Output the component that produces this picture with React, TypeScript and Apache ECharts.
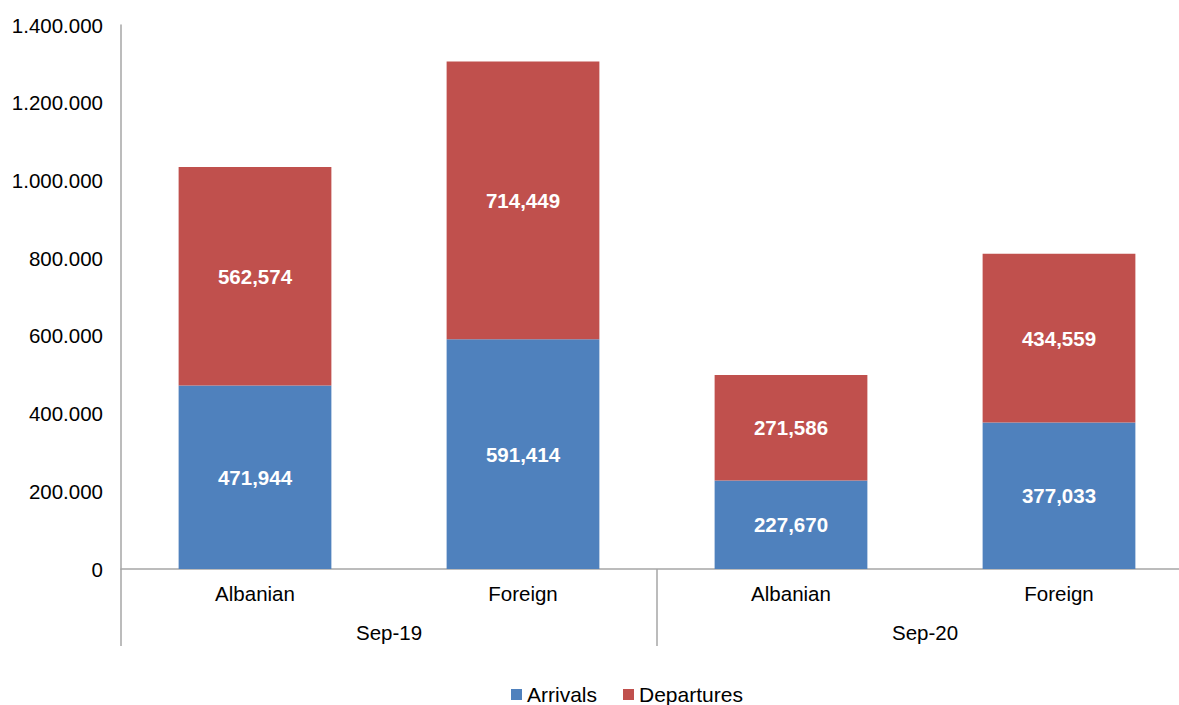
import React, { useEffect, useRef } from "react";
import * as echarts from "echarts";

const categories = ["Albanian", "Foreign", "Albanian", "Foreign"];
const groups = ["Sep-19", "Sep-20"];
const arrivals = [471944, 591414, 227670, 377033];
const departures = [562574, 714449, 271586, 434559];
const yTicks = { min: 0, max: 1400000, interval: 200000 };

const FONT = "'Liberation Sans', Arial, sans-serif";
const AXIS_GRAY = "#A6A6A6";

function dots(v: number) {
  return String(v).replace(/\B(?=(\d{3})+(?!\d))/g, ".");
}
function commas(v: number) {
  return String(v).replace(/\B(?=(\d{3})+(?!\d))/g, ",");
}

export default function App() {
  const ref = useRef<HTMLDivElement>(null);
  useEffect(() => {
    const chart = echarts.init(ref.current!, null, { renderer: "svg" });
    const labelStyle = {
      show: true,
      position: "inside" as const,
      color: "#FFFFFF",
      fontWeight: "bold" as const,
      fontSize: 20.5,
      fontFamily: FONT,
      formatter: (p: any) => commas(p.value),
    };
    chart.setOption({
      animation: false,
      backgroundColor: "#FFFFFF",
      textStyle: { fontFamily: FONT },
      grid: {
        left: 121,
        top: 25,
        bottom: 136,
        width: 1072,
        containLabel: false,
        outerBoundsMode: "none",
      },
      legend: {
        data: ["Arrivals", "Departures"],
        top: 679,
        left: 506,
        itemWidth: 11,
        itemHeight: 11,
        itemGap: 26,
        icon: "rect",
        textStyle: { fontSize: 21, color: "#000000", fontFamily: FONT },
      },
      xAxis: [
        {
          type: "category",
          data: categories,
          position: "bottom",
          axisLine: { show: true, lineStyle: { color: AXIS_GRAY, width: 1.5 } },
          axisTick: { show: false },
          axisLabel: { color: "#000000", fontSize: 20.5, fontFamily: FONT, margin: 14 },
        },
        {
          type: "category",
          data: groups,
          position: "bottom",
          axisLine: { show: false },
          axisTick: {
            show: true,
            interval: 0,
            length: 77,
            lineStyle: { color: AXIS_GRAY, width: 1.5 },
          },
          axisLabel: { color: "#000000", fontSize: 20.5, fontFamily: FONT, margin: 53 },
        },
      ],
      yAxis: {
        type: "value",
        min: yTicks.min,
        max: yTicks.max,
        interval: yTicks.interval,
        axisLine: { show: true, lineStyle: { color: AXIS_GRAY, width: 1.5 } },
        axisTick: { show: false },
        splitLine: { show: false },
        axisLabel: {
          color: "#000000",
          fontSize: 20.5,
          fontFamily: FONT,
          margin: 18,
          formatter: (v: number) => dots(v),
        },
      },
      series: [
        {
          name: "Arrivals",
          type: "bar",
          stack: "total",
          data: arrivals,
          barWidth: "57%",
          itemStyle: { color: "#4F81BD" },
          label: labelStyle,
        },
        {
          name: "Departures",
          type: "bar",
          stack: "total",
          data: departures,
          barWidth: "57%",
          itemStyle: { color: "#C0504D" },
          label: labelStyle,
        },
      ],
    });
    return () => chart.dispose();
  }, []);
  return (
    <div
      ref={ref}
      style={{ position: "fixed", left: 0, top: 0, width: 1179, height: 705 }}
    />
  );
}
